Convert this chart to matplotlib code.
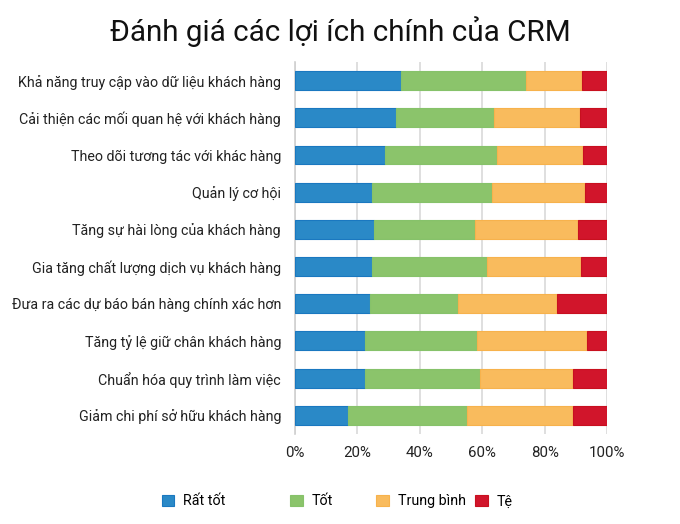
import matplotlib
matplotlib.use("Agg")
import matplotlib.pyplot as plt
import numpy as np

plt.rcParams['font.family'] = ['Roboto', 'DejaVu Sans']

categories = [
    "Khả năng truy cập vào dữ liệu khách hàng",
    "Cải thiện các mối quan hệ với khách hàng",
    "Theo dõi tương tác với khác hàng",
    "Quản lý cơ hội",
    "Tăng sự hài lòng của khách hàng",
    "Gia tăng chất lượng dịch vụ khách hàng",
    "Đưa ra các dự báo bán hàng chính xác hơn",
    "Tăng tỷ lệ giữ chân khách hàng",
    "Chuẩn hóa quy trình làm việc",
    "Giảm chi phí sở hữu khách hàng",
]
series_names = ["Rất tốt", "Tốt", "Trung bình", "Tệ"]
rat_tot = [34.0, 32.5, 28.8, 24.7, 25.3, 24.7, 24.0, 22.3, 22.3, 17.0]
tot = [39.9, 31.2, 35.9, 38.4, 32.5, 36.8, 28.2, 36.0, 37.0, 38.1]
trung_binh = [18.1, 27.8, 27.6, 29.7, 32.9, 30.2, 31.7, 35.4, 29.8, 34.0]
te = [8.0, 8.5, 7.7, 7.2, 9.3, 8.3, 16.1, 6.3, 10.9, 10.9]
tick_labels = ["0%", "20%", "40%", "60%", "80%", "100%"]

face_colors = ["#2a89c7", "#8bc46b", "#f9bb5d", "#d1152b"]
edge_colors = ["#1a78c0", "#86c26a", "#f7b24c", "#c8101f"]

fig = plt.figure(figsize=(6.8, 5.24), dpi=100)
ax = fig.add_axes([0.4338, 0.1718, 0.4588, 0.7099])

y = np.arange(len(categories))
left = np.zeros(len(categories))
handles = []
for vals, name, fc, ec in zip([rat_tot, tot, trung_binh, te], series_names, face_colors, edge_colors):
    b = ax.barh(y, vals, left=left, height=0.51, color=fc, edgecolor=ec, linewidth=0.8, label=name, zorder=3)
    handles.append(b)
    left = left + np.array(vals)

ax.set_ylim(len(categories) - 0.5, -0.5)
ax.set_xlim(0, 100)
ax.set_xticks(np.arange(0, 101, 20))
ax.set_xticklabels(tick_labels)
ax.set_yticks(y)
ax.set_yticklabels(categories)
ax.tick_params(axis='both', length=0, labelsize=10.3, colors="#222222")
ax.tick_params(axis='x', labelsize=10.8)
ax.tick_params(axis='y', pad=10)
ax.tick_params(axis='x', pad=9)
ax.grid(axis='x', color="#d9d9d9", linewidth=1.2, zorder=0)
for s in ["top", "right", "bottom"]:
    ax.spines[s].set_visible(False)
ax.spines["left"].set_color("#d0d0d0")
ax.spines["left"].set_linewidth(1.2)

fig.text(0.5, 0.94, "Đánh giá các lợi ích chính của CRM", ha="center", va="center", fontsize=21.3, color="#111111")

legend_x = [0.227, 0.416, 0.543, 0.688]
for h, name, lx in zip(handles, series_names, legend_x):
    fig.legend([h], [name], loc="center left", bbox_to_anchor=(lx, 0.043), frameon=False,
               fontsize=10.3, handlelength=0.9, handleheight=0.9, handletextpad=0.6, borderpad=0)

fig.savefig("out.png", dpi=100)
